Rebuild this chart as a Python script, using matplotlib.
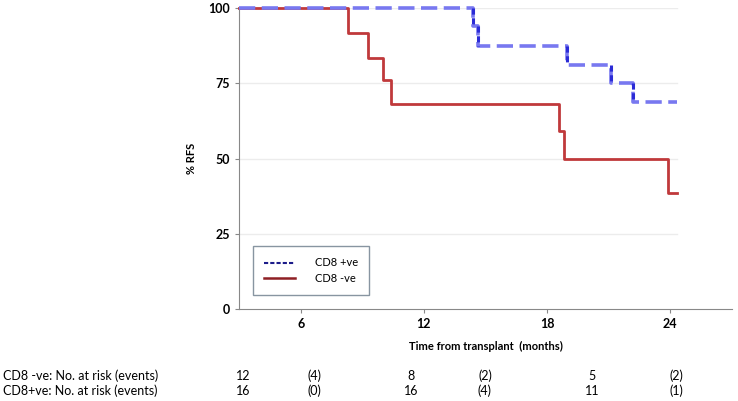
import matplotlib
matplotlib.use('Agg')
import matplotlib.pyplot as plt
from matplotlib.lines import Line2D

plt.rcParams['font.family'] = ['Lato', 'DejaVu Sans']

# Kaplan-Meier steps
neg_time = [3, 8.3, 9.3, 10.0, 10.4, 18.6, 18.8, 23.9, 24.3]
neg_rfs = [100, 91.7, 83.5, 76, 68, 59, 50, 38.5, 38.5]
pos_time = [3, 14.4, 14.65, 18.95, 21.1, 22.2, 24.3]
pos_rfs = [100, 94, 87.5, 81.2, 75, 68.7, 68.7]

y_ticks = [0, 25, 50, 75, 100]
x_ticks = [6, 12, 18, 24]

risk_labels = ['CD8 -ve: No. at risk (events)', 'CD8+ve: No. at risk (events)']
risk_neg = ['12', '(4)', '8', '(2)', '5', '(2)']
risk_pos = ['16', '(0)', '16', '(4)', '11', '(1)']
risk_x = [243, 314, 411, 485, 592, 676]

W, H = 738, 401
fig = plt.figure(figsize=(W / 100, H / 100), dpi=100)
ax = fig.add_axes([239 / W, 1 - 309 / H, (732 - 239) / W, (309 - 8) / H])

# faint grid lines ending at the last follow-up
for yv in y_ticks[1:]:
    ax.plot([3, 24.3], [yv, yv], color='#ececec', lw=1, zorder=1)

ax.step(neg_time, neg_rfs, where='post', color='#c0393b', lw=2, zorder=3,
        clip_on=False)
ax.step(pos_time, pos_rfs, where='post', color='#7878f0', lw=2.6,
        dashes=(4.5, 1.8), zorder=4, clip_on=False)
# vertical drops look darker blue in the original
for i in range(1, len(pos_time) - 1):
    ax.plot([pos_time[i], pos_time[i]], [pos_rfs[i - 1], pos_rfs[i]],
            color='#2b2bd6', lw=2.2, dashes=(2, 1.2), zorder=5)

ax.set_xlim(3, 27)
ax.set_ylim(0, 100)
ax.set_xticks(x_ticks)
ax.set_yticks(y_ticks)
ax.tick_params(labelsize=9, length=3, color='#888888')
for lab in ax.get_xticklabels() + ax.get_yticklabels():
    lab.set_fontweight('bold')
for s in ['top', 'right']:
    ax.spines[s].set_visible(False)
for s in ['left', 'bottom']:
    ax.spines[s].set_color('#888888')

ax.set_ylabel('% RFS', fontsize=8, fontweight='bold', labelpad=8)
ax.set_xlabel('Time from transplant  (months)', fontsize=8, fontweight='bold',
              labelpad=8)

handles = [Line2D([], [], color='#1c1c8a', lw=1.5, dashes=(2, 1)),
           Line2D([], [], color='#8e1f24', lw=1.8)]
leg = ax.legend(handles, ['CD8 +ve', 'CD8 -ve'], loc='lower left',
                bbox_to_anchor=(14 / 493, 14 / 301), borderaxespad=0,
                fontsize=8, frameon=True, fancybox=False, borderpad=1.0,
                handlelength=2.8, handletextpad=1.8, labelspacing=0.4)
leg.get_frame().set_edgecolor('#6a7b8a')
leg.get_frame().set_linewidth(1)
leg.get_frame().set_boxstyle('square', pad=0)

# number-at-risk table
for row, (lab, vals) in enumerate(zip(risk_labels, [risk_neg, risk_pos])):
    yy = 1 - (376 + row * 15) / H
    fig.text(3 / W, yy, lab, fontsize=9, va='center', ha='left')
    for xv, v in zip(risk_x, vals):
        fig.text(xv / W, yy, v, fontsize=9, va='center', ha='center')

fig.savefig('out.png', dpi=100)
